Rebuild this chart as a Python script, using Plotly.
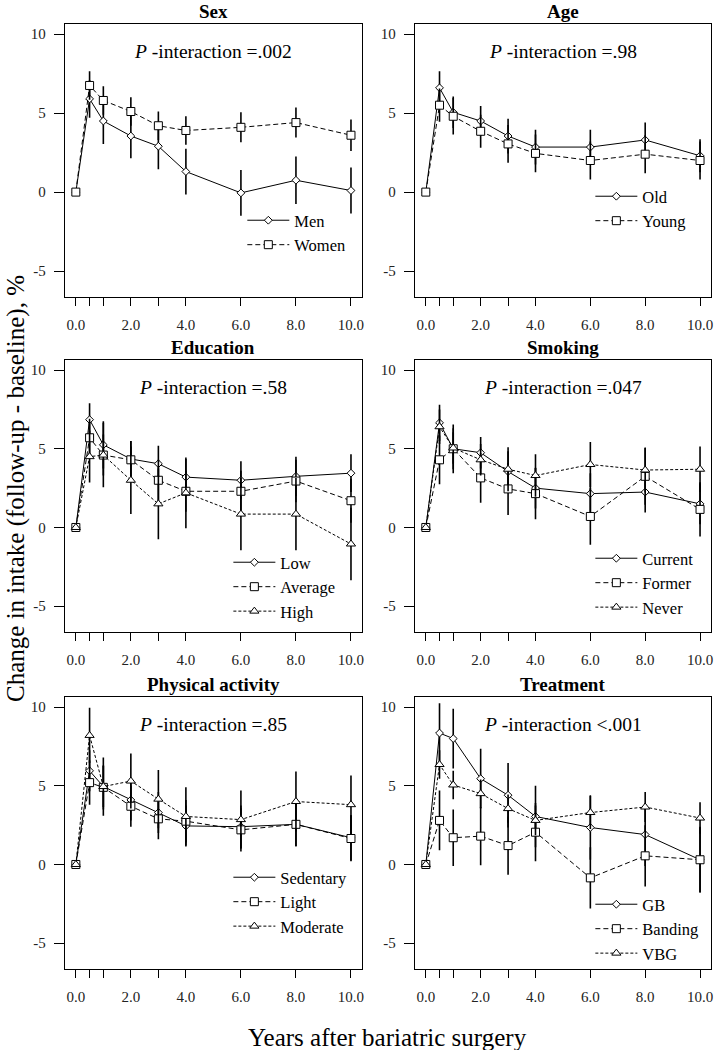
import plotly.graph_objects as go

W, H = 715, 1050
FONT = "Liberation Serif"

# ---------------- data ----------------
times = [0, 0.5, 1, 2, 3, 4, 6, 8, 10]
x_tick_labels = ["0.0", "", "", "2.0", "", "4.0", "6.0", "8.0", "10.0"]
y_ticks = [-5, 0, 5, 10]
y_tick_labels = ["-5", "0", "5", "10"]

panel_titles = ["Sex", "Age", "Education", "Smoking", "Physical activity", "Treatment"]
p_labels = ["=.002", "=.98", "=.58", "=.047", "=.85", "<.001"]

# Sex
men = [0, 5.9, 4.5, 3.55, 2.9, 1.3, -0.05, 0.75, 0.1]
men_err = [0, 1.2, 1.45, 1.4, 1.45, 1.45, 1.45, 1.5, 1.45]
women = [0, 6.75, 5.8, 5.1, 4.2, 3.9, 4.1, 4.4, 3.6]
women_err = [0, 0.9, 0.9, 0.9, 0.9, 0.9, 0.95, 0.95, 1.0]
# Age
old = [0, 6.6, 5.05, 4.5, 3.55, 2.85, 2.85, 3.3, 2.3]
old_err = [0, 1.05, 1.0, 0.95, 1.1, 1.1, 1.1, 1.1, 1.05]
young = [0, 5.5, 4.8, 3.85, 3.05, 2.45, 2.0, 2.4, 2.0]
young_err = [0, 1.05, 1.15, 1.05, 1.2, 1.2, 1.2, 1.2, 1.2]
# Education
low = [0, 6.85, 5.25, 4.35, 4.05, 3.2, 3.0, 3.25, 3.45]
low_err = [0, 1.05, 1.5, 1.15, 1.15, 1.15, 1.2, 1.25, 1.2]
average = [0, 5.7, 4.6, 4.3, 3.0, 2.3, 2.3, 2.95, 1.7]
average_err = [0, 1.2, 1.3, 1.2, 1.3, 1.3, 1.3, 1.35, 1.4]
high = [0, 4.5, 4.6, 3.0, 1.5, 2.2, 0.85, 0.85, -1.05]
high_err = [0, 1.65, 2.05, 2.15, 2.25, 2.25, 2.3, 2.3, 2.3]
# Smoking
current = [0, 6.65, 5.0, 4.75, 3.55, 2.5, 2.15, 2.25, 1.5]
current_err = [0, 1.15, 1.3, 1.0, 1.3, 1.3, 1.3, 1.3, 1.3]
former = [0, 4.3, 5.0, 3.15, 2.45, 2.15, 0.7, 3.25, 1.15]
former_err = [0, 1.55, 1.55, 1.58, 1.65, 1.63, 1.8, 1.8, 1.73]
never = [0, 6.4, 5.05, 4.3, 3.7, 3.3, 4.0, 3.65, 3.7]
never_err = [0, 1.1, 1.0, 1.0, 1.4, 1.35, 1.43, 1.43, 1.44]
# Physical activity
sedentary = [0, 5.95, 4.95, 4.1, 3.3, 2.45, 2.4, 2.55, 1.7]
sedentary_err = [0, 1.3, 1.3, 1.3, 1.3, 1.3, 1.35, 1.4, 1.45]
light = [0, 5.2, 4.9, 3.7, 2.9, 2.75, 2.2, 2.55, 1.65]
light_err = [0, 1.4, 1.4, 1.3, 1.3, 1.35, 1.37, 1.38, 1.45]
moderate = [0, 8.2, 4.95, 5.3, 4.15, 3.05, 2.85, 4.0, 3.8]
moderate_err = [0, 1.75, 1.85, 1.75, 1.85, 1.85, 1.85, 1.9, 1.85]
# Treatment
gb = [0, 8.35, 8.0, 5.45, 4.4, 3.05, 2.35, 1.9, 0.3]
gb_err = [0, 1.9, 1.9, 1.9, 2.05, 1.95, 2.05, 2.0, 2.05]
banding = [0, 2.8, 1.7, 1.8, 1.2, 2.05, -0.85, 0.55, 0.3]
banding_err = [0, 1.9, 1.8, 1.85, 1.85, 1.85, 1.95, 1.95, 2.1]
vbg = [0, 6.35, 5.05, 4.5, 3.55, 2.8, 3.3, 3.65, 2.95]
vbg_err = [0, 0.9, 0.9, 0.9, 0.9, 0.95, 1.05, 0.95, 1.0]

panel_series = [
    [("Men", men, men_err), ("Women", women, women_err)],
    [("Old", old, old_err), ("Young", young, young_err)],
    [("Low", low, low_err), ("Average", average, average_err), ("High", high, high_err)],
    [("Current", current, current_err), ("Former", former, former_err), ("Never", never, never_err)],
    [("Sedentary", sedentary, sedentary_err), ("Light", light, light_err), ("Moderate", moderate, moderate_err)],
    [("GB", gb, gb_err), ("Banding", banding, banding_err), ("VBG", vbg, vbg_err)],
]

# ---------------- layout geometry (pixels) ----------------
col_x = [(65, 363), (416, 713)]
row_y = [(24, 297), (360, 632), (697, 969)]
legend_pos = [(243, 203), (592, 179), (229, 545), (592, 541), (229, 860), (592, 887)]

symbols = ["diamond", "square", "triangle-up"]
msizes = [6, 8, 8]
dashes = ["solid", "5px,3px", "3px,2px"]

fig = go.Figure()
layout_upd = {}
annotations = []

for i, series in enumerate(panel_series):
    col, row = i % 2, i // 2
    k = i + 1
    xa = "x" if k == 1 else f"x{k}"
    ya = "y" if k == 1 else f"y{k}"
    leg = "legend" if k == 1 else f"legend{k}"
    x0, x1 = col_x[col]
    top, bot = row_y[row]
    for j, (name, vals, errs) in enumerate(series):
        fig.add_trace(go.Scatter(
            x=times, y=vals, name=name, mode="lines+markers",
            xaxis=xa, yaxis=ya, legend=leg,
            line=dict(color="black", width=1, dash=dashes[j]),
            marker=dict(symbol=symbols[j], size=msizes[j], color="white",
                        line=dict(color="black", width=1)),
            error_y=dict(type="data", array=errs, visible=True, color="black",
                         thickness=1.6, width=0),
        ))
    axkey = "xaxis" if k == 1 else f"xaxis{k}"
    aykey = "yaxis" if k == 1 else f"yaxis{k}"
    layout_upd[axkey] = dict(
        domain=[x0 / W, x1 / W], range=[-0.4, 10.4], anchor=ya,
        tickmode="array", tickvals=times, ticktext=x_tick_labels,
        ticks="outside", ticklen=8, tickwidth=1, tickcolor="black",
        showline=True, linecolor="black", linewidth=1, mirror=True,
        showgrid=False, zeroline=False, ticklabelstandoff=6,
        tickfont=dict(family=FONT, size=15, color="#222"),
    )
    layout_upd[aykey] = dict(
        domain=[1 - bot / H, 1 - top / H], range=[-6.64, 10.64], anchor=xa,
        tickmode="array", tickvals=y_ticks, ticktext=y_tick_labels,
        ticks="outside", ticklen=10, tickwidth=1, tickcolor="black",
        showline=True, linecolor="black", linewidth=1, mirror=True,
        showgrid=False, zeroline=False, ticklabelstandoff=5,
        tickfont=dict(family=FONT, size=15, color="#222"),
    )
    lx, ly = legend_pos[i]
    layout_upd[leg] = dict(
        x=lx / W, y=1 - ly / H, xanchor="left", yanchor="top",
        bgcolor="rgba(0,0,0,0)", borderwidth=0, itemwidth=42,
        font=dict(family=FONT, size=16.5, color="black"),
    )
    cx = (x0 + x1) / 2
    annotations.append(dict(
        text=f"<b>{panel_titles[i]}</b>", x=cx / W, y=1 - (top - 13) / H,
        xref="paper", yref="paper", showarrow=False, xanchor="center", yanchor="middle",
        font=dict(family=FONT, size=19, color="black"),
    ))
    annotations.append(dict(
        text=f"<i>P</i> -interaction {p_labels[i]}", x=cx / W, y=1 - (top + 27) / H,
        xref="paper", yref="paper", showarrow=False, xanchor="center", yanchor="middle",
        font=dict(family=FONT, size=19.5, color="black"),
    ))

annotations.append(dict(
    text="Years after bariatric surgery", x=389 / W, y=1 - 1037 / H,
    xref="paper", yref="paper", showarrow=False, xanchor="center", yanchor="middle",
    font=dict(family=FONT, size=25, color="black"),
))
annotations.append(dict(
    text="Change in intake (follow-up - baseline), %", x=16 / W, y=1 - 488 / H,
    xref="paper", yref="paper", showarrow=False, xanchor="center", yanchor="middle",
    textangle=-90, font=dict(family=FONT, size=25, color="black"),
))

fig.update_layout(
    width=W, height=H, autosize=False,
    margin=dict(l=0, r=0, t=0, b=0),
    paper_bgcolor="white", plot_bgcolor="white",
    showlegend=True, annotations=annotations,
    **layout_upd,
)

fig.write_html(
    "out.html",
    config={"displayModeBar": False},
    post_script="document.body.style.margin='0px'; document.body.style.overflow='hidden';",
)
